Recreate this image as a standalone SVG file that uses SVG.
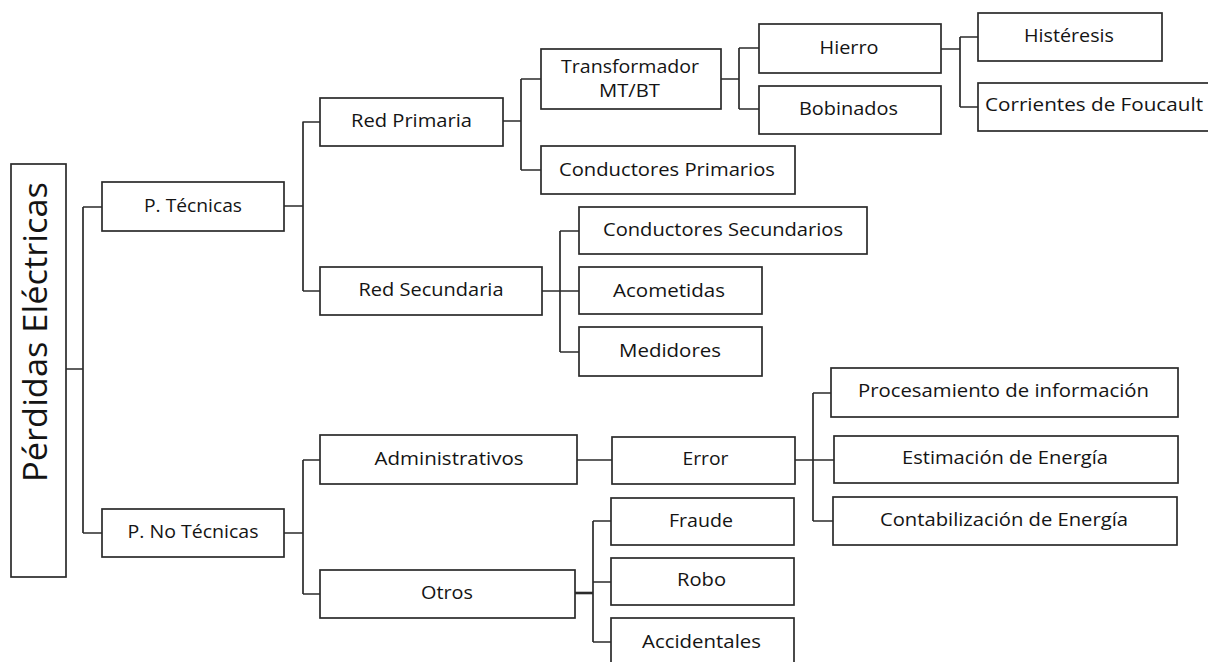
<svg xmlns="http://www.w3.org/2000/svg" width="1208" height="662" viewBox="0 0 1208 662">
  <style>
    .box { fill: #ffffff; stroke: #2b2b2b; stroke-width: 1.7; }
    .wire { fill: none; stroke: #2b2b2b; stroke-width: 1.7; }
    .lbl { font-family: "Open Sans", "Liberation Sans", sans-serif; font-size: 17.5px; font-weight: 500; fill: #141414; text-anchor: middle; }
    .root { font-family: "Open Sans", "Liberation Sans", sans-serif; font-size: 32px; fill: #141414; text-anchor: middle; }
  </style>
  <rect x="0" y="0" width="1208" height="662" fill="#ffffff"/>

  <!-- tree connectors -->
  <g id="connectors" class="wire">
    <!-- root to level 1 -->
    <path d="M66 369 H83 M83 207 V533 M83 207 H102 M83 533 H102"/>
    <!-- P. Técnicas -->
    <path d="M284 206 H303 M303 121.5 V291 M303 122 H320 M303 291 H320"/>
    <!-- Red Primaria -->
    <path d="M503 121 H521 M521 79 V170 M521 79 H541 M521 170 H541"/>
    <!-- Transformador -->
    <path d="M721 79 H739 M739 48 V109 M739 48 H759 M739 109 H759"/>
    <!-- Hierro -->
    <path d="M941 49 H960 M960 37 V107 M960 37 H978 M960 107 H978"/>
    <!-- Red Secundaria -->
    <path d="M542 291 H560 M560 231 V352 M560 231 H579 M560 291 H579 M560 352 H579"/>
    <!-- P. No Técnicas -->
    <path d="M284 533 H303 M303 460 V594 M303 460 H320 M303 594 H320"/>
    <!-- Administrativos to Error -->
    <path d="M577 460 H612"/>
    <!-- Error -->
    <path d="M795 460 H813 M813 393 V521 M813 393 H831 M813 460 H834 M813 521 H833"/>
    <!-- Otros -->
    <path d="M575 593 H593" stroke-width="2.6"/>
    <path d="M593 521 V642 M593 521 H611 M593 582 H611 M593 642 H611"/>
  </g>

  <g id="perdidas-electricas">
    <rect class="box" x="11" y="164" width="55" height="413"/>
    <text class="root" transform="translate(47,332) rotate(-90)" textLength="300" lengthAdjust="spacingAndGlyphs">Pérdidas Eléctricas</text>
  </g>

  <g id="p-tecnicas">
    <rect class="box" x="102" y="182" width="182" height="49"/>
    <text class="lbl" x="193" y="212" textLength="98" lengthAdjust="spacingAndGlyphs">P. Técnicas</text>
  </g>
  <g id="p-no-tecnicas">
    <rect class="box" x="102" y="509" width="182" height="48"/>
    <text class="lbl" x="193" y="538" textLength="131" lengthAdjust="spacingAndGlyphs">P. No Técnicas</text>
  </g>

  <g id="red-primaria">
    <rect class="box" x="320" y="98" width="183" height="48"/>
    <text class="lbl" x="411.5" y="127" textLength="121" lengthAdjust="spacingAndGlyphs">Red Primaria</text>
  </g>
  <g id="red-secundaria">
    <rect class="box" x="320" y="267" width="222" height="48"/>
    <text class="lbl" x="431" y="296" textLength="145" lengthAdjust="spacingAndGlyphs">Red Secundaria</text>
  </g>

  <g id="transformador">
    <rect class="box" x="541" y="49" width="180" height="60"/>
    <text class="lbl" x="630" y="73" textLength="138" lengthAdjust="spacingAndGlyphs">Transformador</text>
    <text class="lbl" x="629.5" y="97" textLength="61" lengthAdjust="spacingAndGlyphs">MT/BT</text>
  </g>
  <g id="conductores-primarios">
    <rect class="box" x="541" y="146" width="254" height="48"/>
    <text class="lbl" x="667" y="175.5" textLength="216" lengthAdjust="spacingAndGlyphs">Conductores Primarios</text>
  </g>

  <g id="hierro">
    <rect class="box" x="759" y="24" width="182" height="49"/>
    <text class="lbl" x="849" y="53.5" textLength="59" lengthAdjust="spacingAndGlyphs">Hierro</text>
  </g>
  <g id="bobinados">
    <rect class="box" x="759" y="86" width="182" height="48"/>
    <text class="lbl" x="848.5" y="114.5" textLength="99" lengthAdjust="spacingAndGlyphs">Bobinados</text>
  </g>

  <g id="histeresis">
    <rect class="box" x="978" y="13" width="184" height="48"/>
    <text class="lbl" x="1069" y="42" textLength="90" lengthAdjust="spacingAndGlyphs">Histéresis</text>
  </g>
  <g id="corrientes-foucault">
    <rect class="box" x="978" y="83" width="240" height="48"/>
    <text class="lbl" x="1094" y="111" textLength="218" lengthAdjust="spacingAndGlyphs">Corrientes de Foucault</text>
  </g>

  <g id="conductores-secundarios">
    <rect class="box" x="579" y="207" width="288" height="47"/>
    <text class="lbl" x="723" y="235.5" textLength="240" lengthAdjust="spacingAndGlyphs">Conductores Secundarios</text>
  </g>
  <g id="acometidas">
    <rect class="box" x="579" y="267" width="183" height="47"/>
    <text class="lbl" x="669" y="296.5" textLength="112" lengthAdjust="spacingAndGlyphs">Acometidas</text>
  </g>
  <g id="medidores">
    <rect class="box" x="579" y="327" width="183" height="49"/>
    <text class="lbl" x="670" y="357" textLength="102" lengthAdjust="spacingAndGlyphs">Medidores</text>
  </g>

  <g id="administrativos">
    <rect class="box" x="320" y="435" width="257" height="49"/>
    <text class="lbl" x="449" y="465" textLength="149" lengthAdjust="spacingAndGlyphs">Administrativos</text>
  </g>
  <g id="otros">
    <rect class="box" x="320" y="570" width="255" height="48"/>
    <text class="lbl" x="447" y="599" textLength="52" lengthAdjust="spacingAndGlyphs">Otros</text>
  </g>

  <g id="error">
    <rect class="box" x="612" y="437" width="183" height="47"/>
    <text class="lbl" x="705.5" y="465" textLength="46" lengthAdjust="spacingAndGlyphs">Error</text>
  </g>
  <g id="fraude">
    <rect class="box" x="611" y="498" width="183" height="47"/>
    <text class="lbl" x="701" y="526.5" textLength="64" lengthAdjust="spacingAndGlyphs">Fraude</text>
  </g>
  <g id="robo">
    <rect class="box" x="611" y="558" width="183" height="47"/>
    <text class="lbl" x="701.5" y="586" textLength="49" lengthAdjust="spacingAndGlyphs">Robo</text>
  </g>
  <g id="accidentales">
    <rect class="box" x="611" y="618" width="183" height="48"/>
    <text class="lbl" x="701.5" y="648" textLength="119" lengthAdjust="spacingAndGlyphs">Accidentales</text>
  </g>

  <g id="procesamiento-informacion">
    <rect class="box" x="831" y="368" width="347" height="49"/>
    <text class="lbl" x="1003.5" y="397" textLength="291" lengthAdjust="spacingAndGlyphs">Procesamiento de información</text>
  </g>
  <g id="estimacion-energia">
    <rect class="box" x="834" y="436" width="344" height="47"/>
    <text class="lbl" x="1005" y="464" textLength="206" lengthAdjust="spacingAndGlyphs">Estimación de Energía</text>
  </g>
  <g id="contabilizacion-energia">
    <rect class="box" x="833" y="497" width="344" height="48"/>
    <text class="lbl" x="1004" y="526" textLength="248" lengthAdjust="spacingAndGlyphs">Contabilización de Energía</text>
  </g>
</svg>
